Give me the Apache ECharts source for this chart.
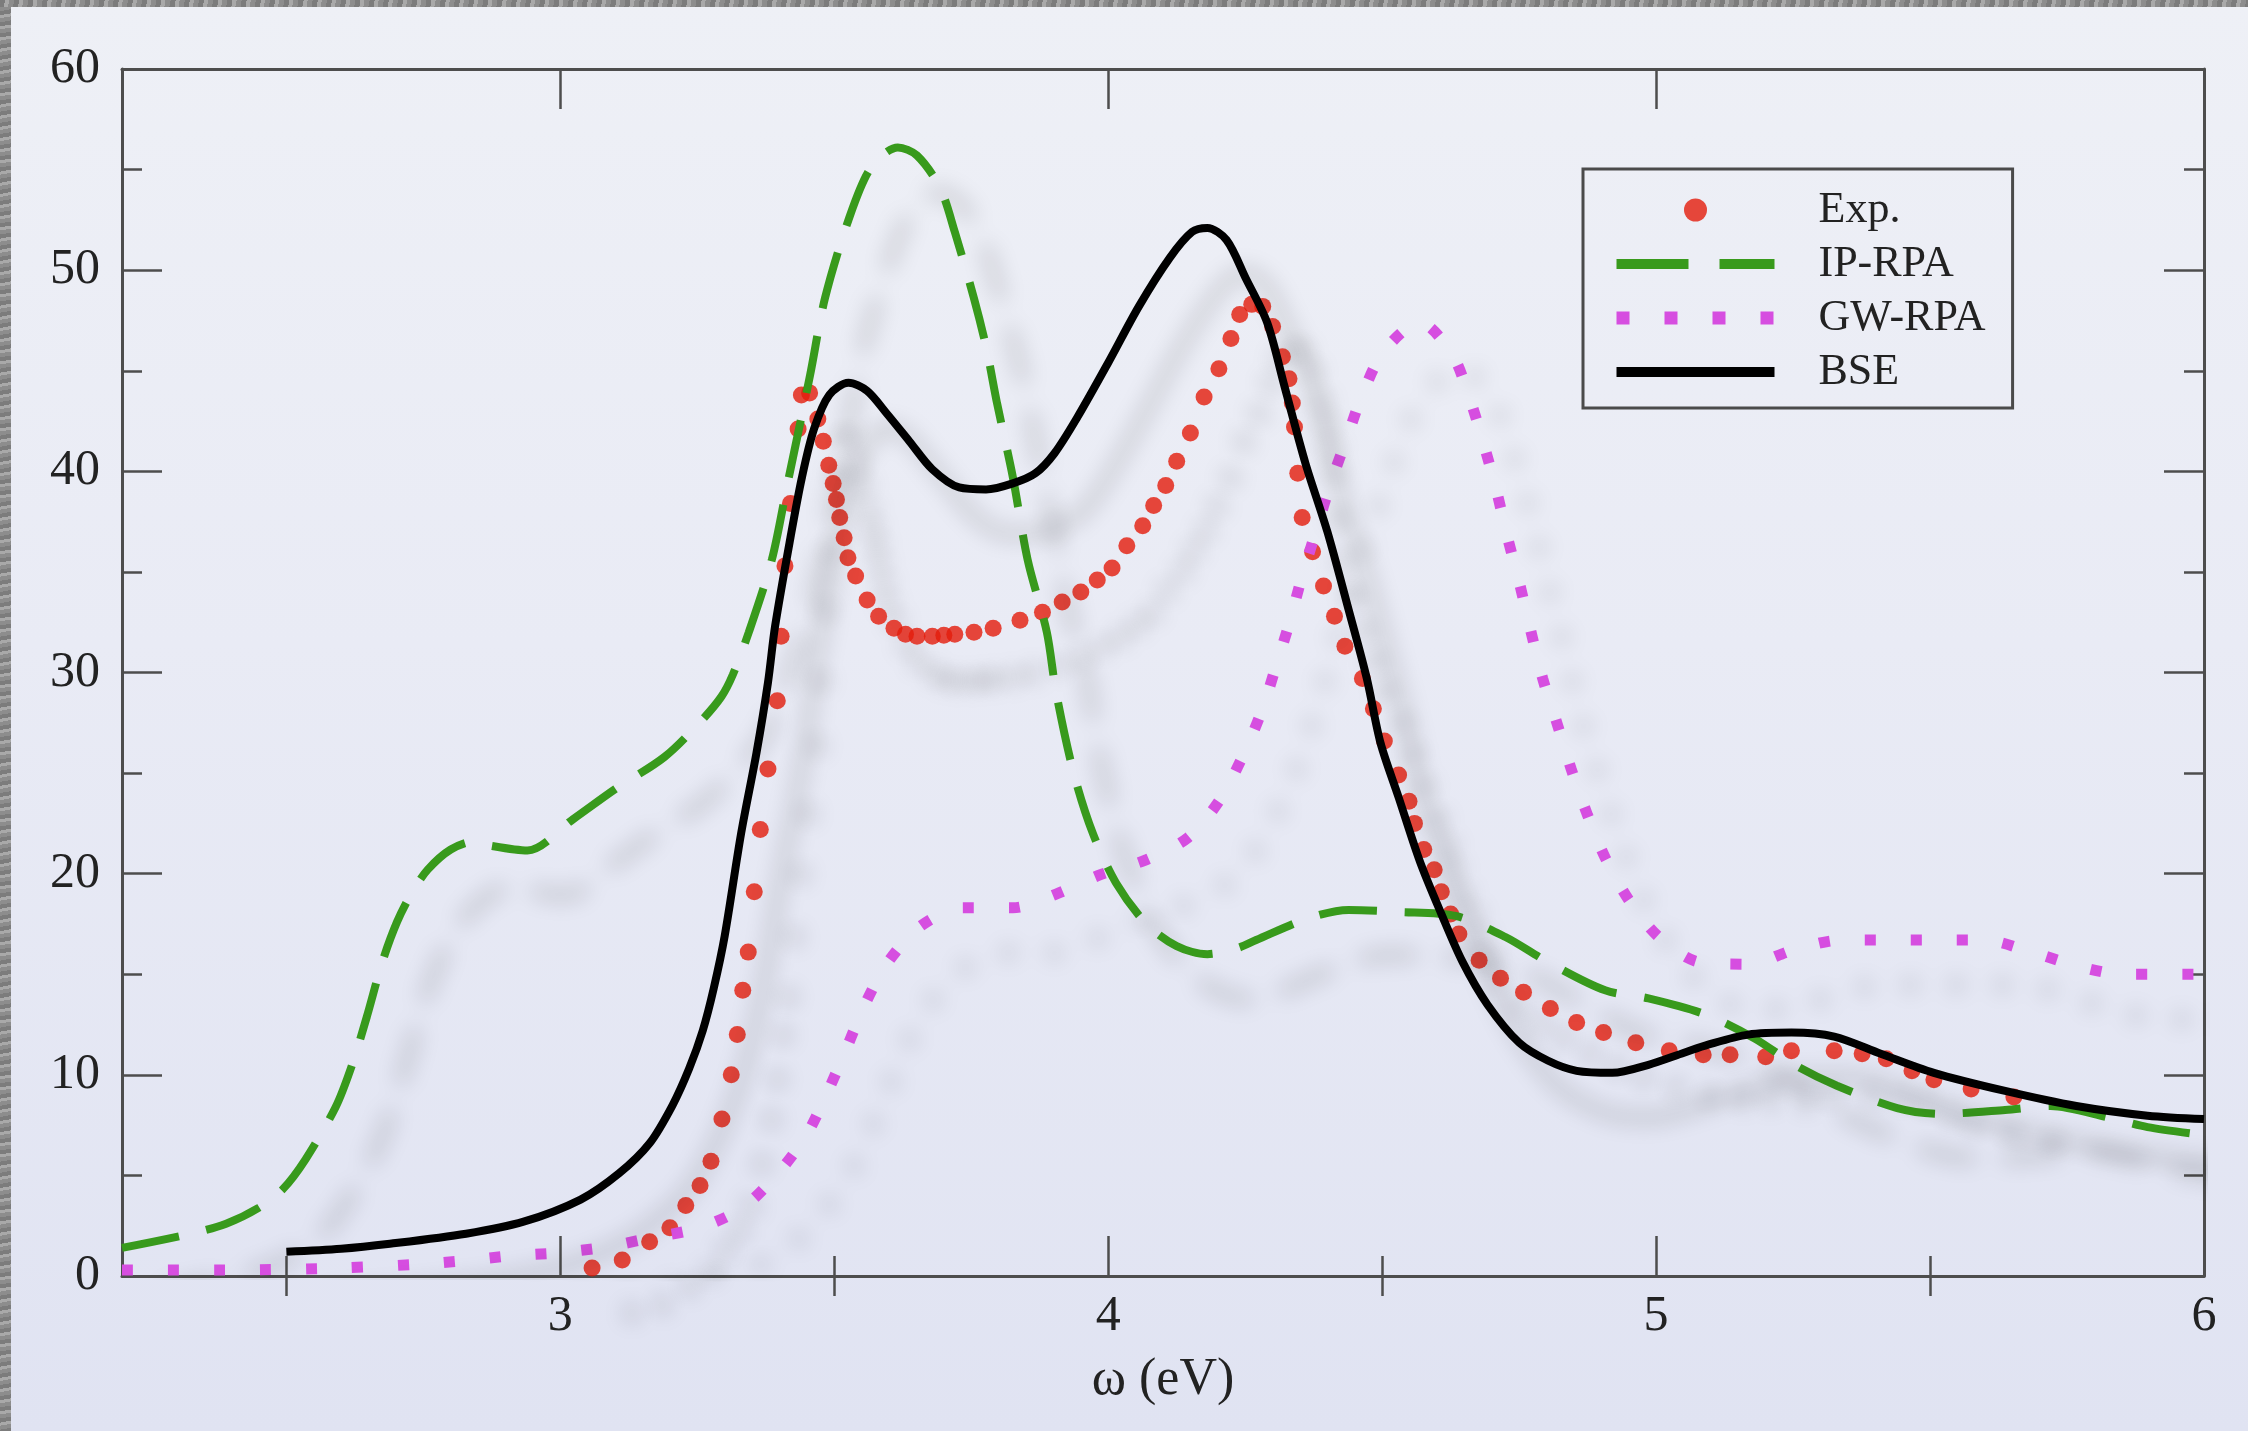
<!DOCTYPE html>
<html>
<head>
<meta charset="utf-8">
<title>Absorption spectrum</title>
<script src="https://cdn.jsdelivr.net/npm/echarts@6/dist/echarts.min.js"></script>
<style>
  html, body { margin: 0; padding: 0; width: 2248px; height: 1431px; overflow: hidden; }
  body { background: linear-gradient(180deg, #eef0f6 0%, #e9ebf5 45%, #e0e3f2 100%); }
  #chart { position: absolute; left: 0; top: 0; width: 2248px; height: 1431px; }
  .strip-left { position: absolute; left: 0; top: 0; width: 11px; height: 1431px;
    background: repeating-linear-gradient(170deg, #7c7c7c 0 4px, #a9a9a9 4px 7px, #8d8d8d 7px 11px); }
  .strip-top { position: absolute; left: 0; top: 0; width: 2248px; height: 7px;
    background: repeating-linear-gradient(100deg, #7c7c7c 0 5px, #a9a9a9 5px 9px, #8d8d8d 9px 14px); }
</style>
</head>
<body>
<div class="strip-left"></div>
<div class="strip-top"></div>
<div id="chart"></div>
<script>
// tick positions on the energy axis
const xMajorTicks = [3, 4, 5, 6];
const xMinorTicks = [2.5, 3.5, 4.5, 5.5];

// Exp. (red dots)
const expE = [3.058, 3.113, 3.163, 3.20, 3.229, 3.255, 3.275, 3.295, 3.312, 3.323, 3.333, 3.343, 3.354, 3.365,
  3.379, 3.396, 3.403, 3.41, 3.42, 3.434, 3.44, 3.455, 3.47, 3.48, 3.49, 3.498, 3.504, 3.51, 3.518, 3.525,
  3.539, 3.56, 3.581, 3.609, 3.63, 3.651, 3.679, 3.70, 3.72, 3.755, 3.79, 3.839, 3.88, 3.916, 3.95, 3.98,
  4.007, 4.034, 4.063, 4.083, 4.105, 4.125, 4.15, 4.175, 4.202, 4.224, 4.24, 4.262, 4.282, 4.30, 4.318,
  4.33, 4.336, 4.34, 4.346, 4.354, 4.373, 4.393, 4.413, 4.432, 4.464, 4.484, 4.504, 4.53, 4.549, 4.559,
  4.576, 4.595, 4.608, 4.625, 4.64, 4.677, 4.716, 4.758, 4.807, 4.855, 4.904, 4.963, 5.024, 5.086, 5.135,
  5.20, 5.247, 5.325, 5.376, 5.42, 5.467, 5.507, 5.575, 5.653];
const expEps = [0.4, 0.8, 1.7, 2.4, 3.5, 4.5, 5.7, 7.8, 10.0, 12.0, 14.2, 16.1, 19.1, 22.2,
  25.2, 28.6, 31.8, 35.3, 38.4, 42.1, 43.8, 43.9, 42.6, 41.5, 40.3, 39.4, 38.6, 37.7, 36.7, 35.7,
  34.8, 33.6, 32.8, 32.2, 31.9, 31.8, 31.8, 31.85, 31.9, 32.0, 32.2, 32.6, 33.0, 33.5, 34.0, 34.6,
  35.2, 36.3, 37.3, 38.3, 39.3, 40.5, 41.9, 43.7, 45.1, 46.6, 47.8, 48.3, 48.2, 47.2, 45.7,
  44.6, 43.4, 42.2, 39.9, 37.7, 36.0, 34.3, 32.8, 31.3, 29.7, 28.2, 26.6, 24.9, 23.6, 22.5,
  21.2, 20.2, 19.1, 18.0, 17.0, 15.7, 14.8, 14.1, 13.3, 12.6, 12.1, 11.6, 11.2, 11.0, 11.0,
  10.9, 11.2, 11.2, 11.05, 10.8, 10.2, 9.75, 9.3, 8.9];

// IP-RPA (green dashed)
const ipE = [2.20, 2.325, 2.39, 2.45, 2.493, 2.535, 2.59, 2.62, 2.647, 2.675, 2.702, 2.73, 2.758, 2.80,
  2.842, 2.87, 2.94, 3.023, 3.10, 3.19, 3.254, 3.294, 3.315, 3.344, 3.386, 3.414, 3.456, 3.483, 3.526,
  3.567, 3.616, 3.651, 3.693, 3.72, 3.755, 3.777, 3.797, 3.826, 3.853, 3.888, 3.905, 3.937, 3.972, 4.014,
  4.07, 4.125, 4.181, 4.236, 4.27, 4.367, 4.439, 4.53, 4.634, 4.725, 4.803, 4.907, 4.986, 5.09, 5.18,
  5.259, 5.33, 5.44, 5.52, 5.637, 5.72, 5.826, 5.897, 6.0];
const ipEps = [1.4, 2.1, 2.6, 3.4, 4.3, 5.8, 8.4, 10.5, 12.9, 15.6, 17.6, 19.1, 20.2, 21.2,
  21.6, 21.4, 21.15, 22.7, 24.2, 25.8, 27.5, 28.8, 29.9, 32.0, 35.6, 39.3, 44.8, 48.6, 52.5,
  55.1, 56.1, 55.7, 54.1, 51.9, 48.6, 46.2, 43.4, 39.7, 35.6, 32.0, 29.0, 25.0, 22.0, 19.55,
  17.5, 16.4, 16.0, 16.3, 16.7, 17.8, 18.2, 18.1, 17.9, 16.85, 15.6, 14.2, 13.8, 13.0, 11.8,
  10.4, 9.46, 8.35, 8.06, 8.25, 8.45, 7.87, 7.4, 7.0];

// GW-RPA (magenta dotted)
const gwE = [2.2, 2.4, 2.6, 2.75, 2.824, 2.908, 2.995, 3.083, 3.166, 3.254, 3.333, 3.40, 3.449, 3.487,
  3.522, 3.556, 3.598, 3.658, 3.735, 3.826, 3.906, 3.986, 4.07, 4.146, 4.202, 4.243, 4.279, 4.305, 4.331,
  4.354, 4.38, 4.406, 4.435, 4.465, 4.504, 4.569, 4.628, 4.66, 4.686, 4.709, 4.729, 4.751, 4.771, 4.793,
  4.82, 4.845, 4.875, 4.907, 4.95, 5.005, 5.08, 5.168, 5.25, 5.338, 5.425, 5.513, 5.598, 5.686, 5.77,
  5.852, 6.0];
const gwEps = [0.3, 0.3, 0.4, 0.6, 0.76, 1.0, 1.15, 1.44, 1.9, 2.4, 3.4, 5.2, 7.0, 9.1,
  11.3, 13.5, 15.6, 17.4, 18.3, 18.3, 19.0, 19.95, 20.7, 21.8, 23.6, 25.7, 28.0, 30.2, 32.5,
  34.8, 37.1, 39.4, 41.6, 43.9, 46.0, 47.4, 45.8, 43.6, 41.3, 39.0, 36.7, 34.4, 32.1, 29.7,
  27.4, 25.2, 22.9, 20.8, 18.7, 16.85, 15.6, 15.5, 16.2, 16.7, 16.7, 16.7, 16.7, 16.1, 15.4,
  15.0, 15.0];

// BSE (black solid)
const bseE = [2.50, 2.60, 2.689, 2.828, 2.933, 3.037, 3.107, 3.163, 3.205, 3.235, 3.26, 3.28, 3.30, 3.33,
  3.358, 3.379, 3.392, 3.42, 3.441, 3.463, 3.491, 3.526, 3.56, 3.595, 3.637, 3.679, 3.728, 3.777, 3.826,
  3.867, 3.902, 3.944, 4.0, 4.056, 4.112, 4.153, 4.181, 4.216, 4.251, 4.29, 4.322, 4.36, 4.40, 4.439,
  4.472, 4.497, 4.53, 4.569, 4.608, 4.647, 4.692, 4.75, 4.803, 4.855, 4.92, 4.986, 5.051, 5.095, 5.168,
  5.247, 5.325, 5.41, 5.507, 5.637, 5.767, 5.897, 6.0];
const bseEps = [1.2, 1.35, 1.6, 2.1, 2.7, 3.8, 5.1, 6.6, 8.5, 10.3, 12.2, 14.3, 16.9, 22.0,
  26.0, 29.5, 32.3, 36.7, 39.7, 42.1, 43.8, 44.4, 44.0, 42.9, 41.5, 40.1, 39.2, 39.1, 39.4,
  39.9, 40.9, 42.7, 45.4, 48.2, 50.6, 51.9, 52.1, 51.5, 49.6, 47.4, 44.2, 40.4, 37.0, 33.1,
  29.7, 26.5, 23.8, 20.6, 18.0, 15.6, 13.5, 11.6, 10.7, 10.2, 10.1, 10.5, 11.1, 11.5, 12.0,
  12.1, 11.9, 11.05, 10.1, 9.2, 8.45, 7.97, 7.8];

const pairs = (xs, ys) => xs.map((x, i) => [x, ys[i]]);

const FONT = '"Liberation Serif", "DejaVu Serif", serif';
const AXIS_COLOR = '#4d4d4d';
const TEXT_COLOR = '#222';
// soft drop shadow like the slide original
const shadow = { shadowColor: 'rgba(0,0,0,0.22)', shadowBlur: 22, shadowOffsetX: 40, shadowOffsetY: 45 };

const chart = echarts.init(document.getElementById('chart'), null, { renderer: 'canvas' });

const tickStyle = { color: AXIS_COLOR, width: 2.5 };

const xMain = {
  type: 'value', min: 2.2, max: 6,
  minInterval: 1, maxInterval: 1,
  splitLine: { show: false },
  axisLine: { show: true, onZero: false, lineStyle: { color: AXIS_COLOR, width: 3 } },
  axisTick: { show: true, inside: true, length: 40, customValues: xMajorTicks, lineStyle: tickStyle },
  axisLabel: { show: false }
};
const xMinor = {
  type: 'value', min: 2.2, max: 6,
  minInterval: 0.5, maxInterval: 0.5,
  splitLine: { show: false },
  axisLine: { show: false },
  axisTick: { show: true, inside: true, length: 20, customValues: xMinorTicks, lineStyle: tickStyle },
  axisLabel: { show: false }
};

const yBase = {
  type: 'value', min: 0, max: 60, interval: 10,
  splitLine: { show: false },
  axisLine: { show: true, onZero: false, lineStyle: { color: AXIS_COLOR, width: 3 } },
  axisTick: { show: true, inside: true, length: 40, lineStyle: tickStyle },
  minorTick: { show: true, splitNumber: 2, length: 20, lineStyle: tickStyle },
  minorSplitLine: { show: false }
};

const option = {
  animation: false,
  backgroundColor: 'transparent',
  grid: { left: 122, right: 44, top: 69, bottom: 155, outerBoundsMode: 'none', containLabel: false },
  xAxis: [
    {
      ...xMain, position: 'bottom',
      axisLabel: {
        show: true, customValues: xMajorTicks, margin: 16,
        fontFamily: FONT, fontSize: 50, color: TEXT_COLOR
      },
      name: 'ω (eV)', nameLocation: 'middle', nameGap: 78,
      nameTextStyle: { fontFamily: FONT, fontSize: 52, color: TEXT_COLOR }
    },
    { ...xMinor, position: 'bottom' },
    { ...xMain, position: 'top' },
    { ...xMinor, position: 'top' }
  ],
  yAxis: [
    {
      ...yBase, position: 'left',
      axisLabel: { show: true, margin: 22, fontFamily: FONT, fontSize: 50, color: TEXT_COLOR }
    },
    { ...yBase, position: 'right', axisLabel: { show: false } }
  ],
  legend: {
    orient: 'vertical', left: 1583, top: 169,
    padding: [19, 27, 14, 27],
    borderColor: '#4a4a4a', borderWidth: 3, borderRadius: 0,
    backgroundColor: 'transparent',
    itemWidth: 158, itemHeight: 23, itemGap: 10, align: 'left',
    selectedMode: false,
    textStyle: { fontFamily: FONT, fontSize: 44, color: TEXT_COLOR, lineHeight: 43, padding: [0, 0, 0, 39] },
    data: [
      { name: 'Exp.' },
      { name: 'IP-RPA', itemStyle: { opacity: 0 }, lineStyle: { width: 10, type: [72, 31] } },
      { name: 'GW-RPA', itemStyle: { opacity: 0 }, lineStyle: { width: 13, type: [13, 35] } },
      { name: 'BSE', itemStyle: { opacity: 0 }, lineStyle: { width: 10 } }
    ]
  },
  series: [
    {
      name: 'Exp.', type: 'scatter',
      data: pairs(expE, expEps),
      symbol: 'circle', symbolSize: 17,
      itemStyle: { color: '#e41b0b', ...shadow }
    },
    {
      name: 'IP-RPA', type: 'line',
      data: pairs(ipE, ipEps),
      symbol: 'none', showSymbol: false, smooth: 0.3,
      itemStyle: { color: '#389a1c' },
      lineStyle: { color: '#389a1c', width: 8, type: [58, 28], cap: 'butt', ...shadow }
    },
    {
      name: 'GW-RPA', type: 'line',
      data: pairs(gwE, gwEps),
      symbol: 'none', showSymbol: false, smooth: 0.3,
      itemStyle: { color: '#d64ee0' },
      lineStyle: { color: '#d64ee0', width: 11, type: [11, 35], cap: 'butt', ...shadow }
    },
    {
      name: 'BSE', type: 'line',
      data: pairs(bseE, bseEps),
      symbol: 'none', showSymbol: false, smooth: 0.3,
      itemStyle: { color: '#000000' },
      lineStyle: { color: '#000000', width: 8, ...shadow }
    }
  ]
};

chart.setOption(option);
window.addEventListener('resize', () => chart.resize());
</script>
</body>
</html>
